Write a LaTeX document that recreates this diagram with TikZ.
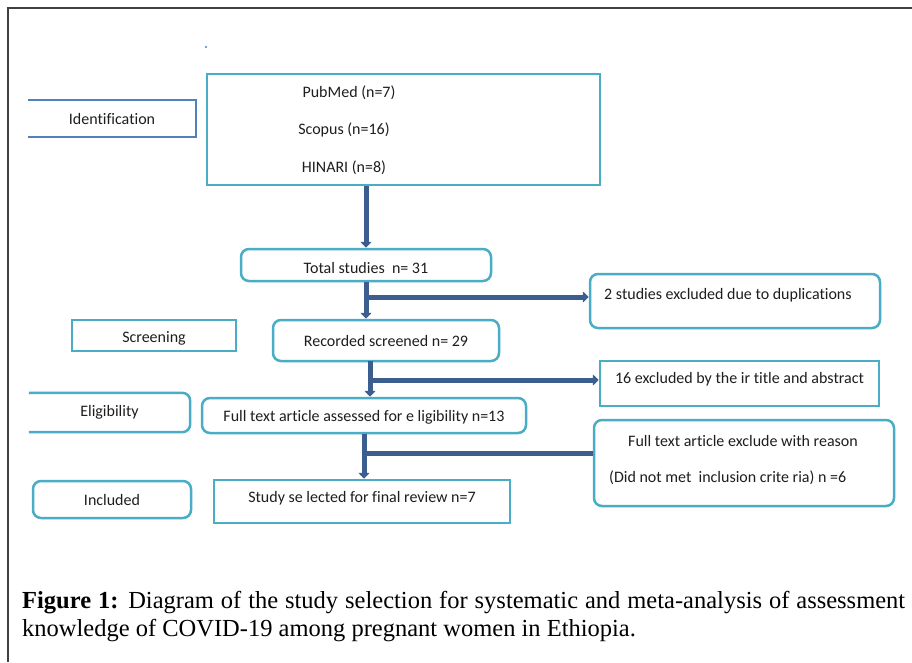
\documentclass[tikz,border=0pt]{standalone}
\usepackage{fontspec}
\setmainfont{Liberation Serif}
\newfontfamily\diagfont[Ligatures=NoCommon]{Carlito}
\usetikzlibrary{arrows.meta,calc}
\definecolor{tealc}{HTML}{4BACC6}
\definecolor{idblue}{HTML}{4F81BD}
\definecolor{arrc}{HTML}{3B5E8E}
\definecolor{framec}{HTML}{404040}
\definecolor{txt}{HTML}{1E1E1E}
\newcommand{\shiftt}[2]{\raisebox{#1}[\height][\depth]{#2}}
\begin{document}
\begin{tikzpicture}[x=1pt,y=-1pt,
  lbl/.style={font=\diagfont\fontsize{16}{19}\selectfont, text=txt, inner sep=0pt},
  sqbox/.style={lbl, draw=tealc, line width=2.5pt},
  rdbox/.style={lbl, draw=tealc, line width=2.5pt, rounded corners=8pt},
  arr/.style={draw=arrc, line width=5pt, -{Triangle[width=11pt,length=6pt]}},
  plain/.style={draw=arrc, line width=5pt}
]
\useasboundingbox (0,0) rectangle (912,662);
\fill[white] (0,0) rectangle (912,662);
% frame
\draw[framec, line width=2pt] (912,8) -- (8,8) -- (8,662);
\fill[idblue] (206,47) circle (1.2);

% left stage labels
\node[lbl, minimum width=168, minimum height=37] (id) at (112,118.5) {Identification};
\draw[idblue, line width=2.5pt] (id.north west) -- (id.north east) -- (id.south east) -- (id.south west);
\node[sqbox, minimum width=164, minimum height=31] (scr) at (154,335.5) {\shiftt{-3pt}{Screening}};
\node[lbl, minimum width=161, minimum height=39] (el) at (109.5,412.5) {Eligibility};
\draw[tealc, line width=2.5pt, rounded corners=8pt] (el.north west) -- (el.north east) -- (el.south east) -- (el.south west);
\node[rdbox, minimum width=158, minimum height=37] (inc) at (112,499.5) {Included};

% main column
\node[sqbox, minimum width=393, minimum height=111] (src) at (403.5,129.5) {};
\node[lbl] (pm) at (349,93) {PubMed (n=7)};
\node[lbl] (sc) at (344,130) {Scopus (n=16)};
\node[lbl] (hi) at (344,168) {HINARI (n=8)};
\node[rdbox, minimum width=250, minimum height=32] (tot) at (366,265) {\shiftt{-3pt}{Total studies\ \ n= 31}};
\node[rdbox, minimum width=226, minimum height=41] (rec) at (386,340.5) {Recorded screened n= 29};
\node[rdbox, minimum width=324, minimum height=35] (full) at (364,415.5) {\shiftt{-1.5pt}{Full text article assessed for e ligibility n=13}};
\node[sqbox, minimum width=296, minimum height=43] (sel) at (362,501.5) {\shiftt{3pt}{Study se lected for final review n=7}};

% right column
\node[rdbox, minimum width=290, minimum height=54] (dup) at (735,301) {};
\node[lbl, anchor=west] (duptxt) at (604,295) {2 studies excluded due to duplications};
\node[sqbox, minimum width=279, minimum height=45] (ex16) at (739.5,383.5) {\shiftt{4pt}{16 excluded by the ir title and abstract}};
\node[rdbox, minimum width=300, minimum height=86] (exr) at (744,463) {};
\node[lbl] (exr1) at (743,441) {Full text article exclude with reason};
\node[lbl, anchor=west] (exr2) at (609,478) {(Did not met\ \ inclusion crite ria) n =6};

% connectors
\draw[arr] (tot.north |- src.south) -- (tot.north);
\draw[arr] (tot.south) -- (tot.south |- rec.north);
\coordinate (b1) at (366,297);
\draw[arr] (b1) -- (b1 -| dup.west);
\coordinate (c2) at (370,361);
\draw[arr] (c2) -- (c2 |- full.north);
\coordinate (b2) at (370,380);
\draw[arr] (b2) -- (b2 -| ex16.west);
\draw[arr] (full.south) -- (full.south |- sel.north);
\coordinate (b3) at (364,453);
\draw[plain] (b3) -- (b3 -| exr.west);

% caption
\node[anchor=north west, inner sep=0pt, text width=883pt, align=justify,
      font=\fontsize{24.5}{28}\selectfont, text=black] (cap) at (22,591)
  {\textbf{Figure 1:} Diagram of the study selection for systematic and meta-analysis of assessment\linebreak knowledge of COVID-19 among pregnant women in Ethiopia.};
\end{tikzpicture}
\end{document}
